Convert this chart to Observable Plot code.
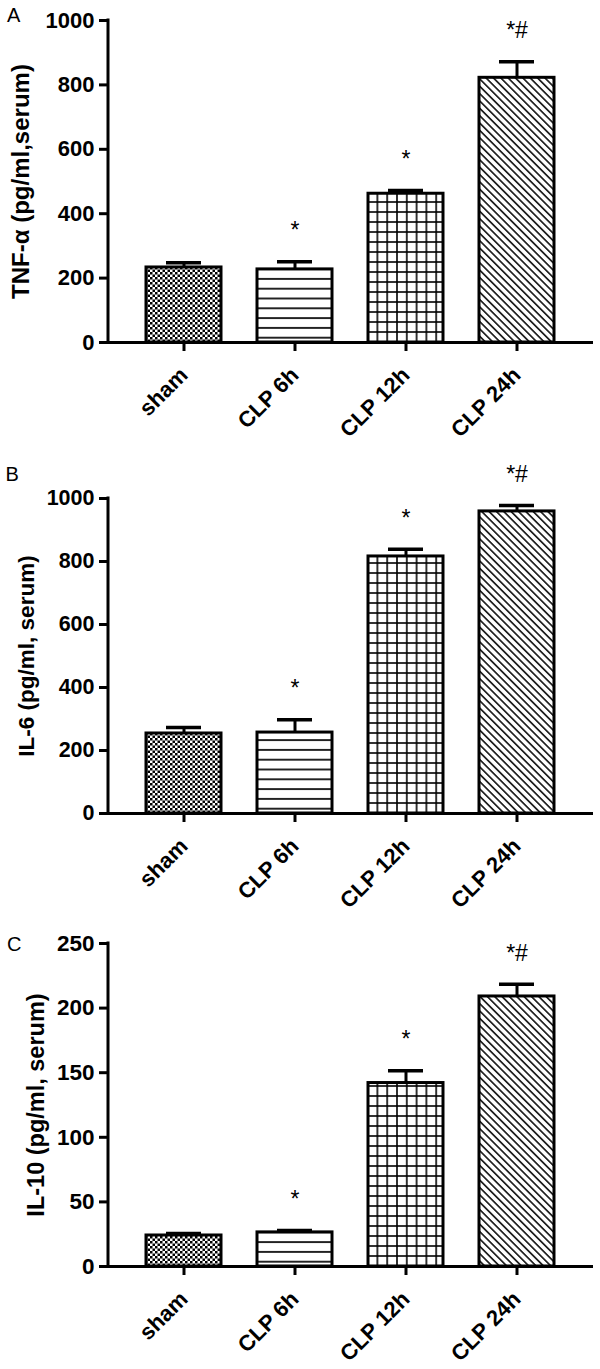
<!DOCTYPE html>
<html>
<head>
<meta charset="utf-8">
<script src="https://cdn.jsdelivr.net/npm/d3@7"></script>
<script src="https://cdn.jsdelivr.net/npm/@observablehq/plot@0.6"></script>
<style>
  html, body { margin: 0; padding: 0; background: #fff; }
  #wrap { position: relative; width: 600px; height: 1369px; font-family: "Liberation Sans", Arial, sans-serif; }
  #wrap svg { display: block; }
  .letter { position: absolute; font-size: 20px; line-height: 1; color: #000; font-family: "Liberation Sans", Arial, sans-serif; }
</style>
</head>
<body>
<div id="wrap"></div>
<script>
// ---- data ----
const categories = ["sham", "CLP 6h", "CLP 12h", "CLP 24h"];
const sigLabels = ["", "*", "*", "*#"];

const tnfMean = [233, 227, 462, 822];
const tnfErr  = [15, 24, 10, 50];
const tnfTicks = [0, 200, 400, 600, 800, 1000];

const il6Mean = [254, 257, 816, 959];
const il6Err  = [19, 41, 23, 19];
const il6Ticks = [0, 200, 400, 600, 800, 1000];

const il10Mean = [24, 26.4, 142, 209];
const il10Err  = [1.6, 1.5, 9.5, 9.5];
const il10Ticks = [0, 50, 100, 150, 200, 250];

// ---- panel layout (styles) ----
const panels = [
  { id: "pA", letter: "A", label: "TNF-α (pg/ml,serum)", mean: tnfMean, err: tnfErr, ticks: tnfTicks,
    height: 460, marginTop: 20, marginBottom: 118, labelDx: -86.7, labelSize: 24, tickSize: 22,
    letterTop: 5.4, letterLeft: 7 },
  { id: "pB", letter: "B", label: "IL-6 (pg/ml, serum)", mean: il6Mean, err: il6Err, ticks: il6Ticks,
    height: 450, marginTop: 38, marginBottom: 97, labelDx: -81.7, labelSize: 22.5, tickSize: 21.5,
    letterTop: 464.4, letterLeft: 5.5 },
  { id: "pC", letter: "C", label: "IL-10 (pg/ml, serum)", mean: il10Mean, err: il10Err, ticks: il10Ticks,
    height: 459, marginTop: 33, marginBottom: 103, labelDx: -71.7, labelSize: 23.5, tickSize: 22.5,
    letterTop: 934.4, letterLeft: 7 }
];

const FONT = "Liberation Sans, Arial, sans-serif";
const patternKeys = ["check", "hline", "grid", "diag"];

function decorations(id) {
  return function (index, scales, values, dimensions) {
    const ns = "http://www.w3.org/2000/svg";
    const g = document.createElementNS(ns, "g");
    const left = dimensions.marginLeft;
    const top = dimensions.marginTop;
    const base = dimensions.height - dimensions.marginBottom;
    const x12 = scales.x ? scales.x(categories[2]) : 0;
    g.innerHTML = `
      <defs>
        <pattern id="${id}-check" patternUnits="userSpaceOnUse" width="5" height="5" patternTransform="translate(0,${base})">
          <rect width="5" height="5" fill="#fff"/>
          <rect width="2.5" height="2.5" fill="#000"/>
          <rect x="2.5" y="2.5" width="2.5" height="2.5" fill="#000"/>
        </pattern>
        <pattern id="${id}-hline" patternUnits="userSpaceOnUse" width="10" height="9.8" patternTransform="translate(0,${base - 4.3 - 4.9})">
          <rect width="10" height="9.8" fill="#fff"/>
          <line x1="0" x2="10" y1="4.9" y2="4.9" stroke="#000" stroke-width="1.7"/>
        </pattern>
        <pattern id="${id}-grid" patternUnits="userSpaceOnUse" width="9.8" height="10" patternTransform="translate(${x12 + 9.4 - 4.9},${base - 10 - 5})">
          <rect width="9.8" height="10" fill="#fff"/>
          <line x1="4.9" x2="4.9" y1="0" y2="10" stroke="#000" stroke-width="1.6"/>
          <line x1="0" x2="9.8" y1="5" y2="5" stroke="#000" stroke-width="1.6"/>
        </pattern>
        <pattern id="${id}-diag" patternUnits="userSpaceOnUse" width="5.2" height="10" patternTransform="rotate(-45)">
          <rect width="5.2" height="10" fill="#fff"/>
          <line x1="2.6" x2="2.6" y1="0" y2="10" stroke="#000" stroke-width="1.5"/>
        </pattern>
      </defs>
      <line x1="${left}" x2="${left}" y1="${top - 1.5}" y2="${base}" stroke="#000" stroke-width="3"/>
    `;
    return g;
  };
}

const wrap = document.getElementById("wrap");
for (const p of panels) {
  const data = categories.map((c, i) => ({
    cat: c,
    mean: p.mean[i],
    err: p.err[i],
    sig: sigLabels[i],
    pat: `url(#${p.id}-${patternKeys[i]})`
  }));
  const chart = Plot.plot({
    width: 600,
    height: p.height,
    marginLeft: 108,
    marginRight: 7,
    marginTop: p.marginTop,
    marginBottom: p.marginBottom,
    style: { fontFamily: FONT, color: "#000", background: "#fff", overflow: "visible" },
    x: { domain: categories, paddingInner: 0.32, paddingOuter: 0.327, label: null },
    y: { domain: [0, p.ticks[p.ticks.length - 1]], label: null },
    color: { type: "identity" },
    marks: [
      decorations(p.id),
      Plot.barY(data, { x: "cat", y: "mean", fill: "pat", stroke: "#000", strokeWidth: 3 }),
      Plot.ruleX(data, { x: "cat", y1: "mean", y2: d => d.mean + d.err, stroke: "#000", strokeWidth: 3 }),
      Plot.tickY(data, { x: "cat", y: d => d.mean + d.err, stroke: "#000", strokeWidth: 3.5, insetLeft: 20, insetRight: 20 }),
      Plot.text(data, { x: "cat", y: d => d.mean + d.err, text: "sig", dy: -23.5, lineAnchor: "bottom",
        fontSize: 23, fontFamily: FONT, fill: "#000" }),
      Plot.ruleY([0], { stroke: "#000", strokeWidth: 3 }),
      Plot.axisY({ ticks: p.ticks, tickFormat: d3.format("d"), tickSize: 9, tickPadding: 5, strokeWidth: 3,
        fontSize: p.tickSize, fontWeight: "bold", fontFamily: FONT, label: null }),
      Plot.axisX({ tickSize: 9, tickPadding: 20, strokeWidth: 3, tickRotate: -45, fontSize: 22,
        fontWeight: "bold", fontFamily: FONT, label: null }),
      Plot.text([p.label], { frameAnchor: "left", textAnchor: "middle", text: d => d, rotate: -90, dx: p.labelDx,
        fontSize: p.labelSize, fontWeight: "bold", fontFamily: FONT, fill: "#000" })
    ]
  });
  wrap.appendChild(chart);
  const L = document.createElement("div");
  L.className = "letter";
  L.textContent = p.letter;
  L.style.top = p.letterTop + "px";
  L.style.left = p.letterLeft + "px";
  wrap.appendChild(L);
}
</script>
</body>
</html>
